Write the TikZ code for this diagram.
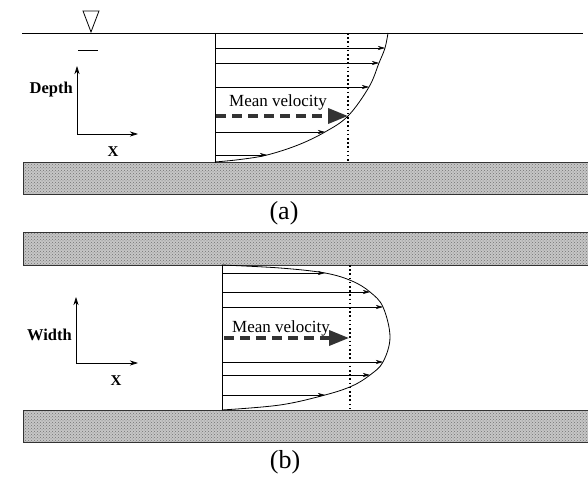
\documentclass[tikz,border=0pt]{standalone}
\usepackage{fontspec}
\setmainfont{Liberation Serif}
\usetikzlibrary{arrows.meta,patterns,shapes.geometric}
\tikzset{
  wall/.style={fill=gray!45},
  wallpat/.style={pattern=crosshatch dots, pattern color=gray!90!black},
  wallline/.style={line width=1pt, draw=black!80},
  vel/.style={line width=0.6pt, -{Stealth[length=7pt,width=4pt,inset=2pt]}},
  prof/.style={line width=0.8pt},
  meanarr/.style={line width=3.6pt, dash pattern=on 10pt off 6pt, -{Triangle[length=20pt,width=15pt]}, black!80},
  dotline/.style={line width=1.8pt, dash pattern=on 1.6pt off 2.6pt},
  axis/.style={line width=0.7pt, -{Stealth[length=8pt,width=5pt,inset=2.5pt]}},
  axlabel/.style={font=\fontsize{16.5}{18}\selectfont\bfseries, inner sep=0pt},
  xlabel/.style={font=\fontsize{15}{17}\selectfont\bfseries, inner sep=0pt},
  meanlabel/.style={font=\fontsize{17}{19}\selectfont, inner sep=0pt, anchor=base west},
  panellabel/.style={font=\fontsize{26}{28}\selectfont, inner sep=0pt}
}
\begin{document}
\begin{tikzpicture}[x=1pt,y=-1pt]
\useasboundingbox (0,0) rectangle (588,478);

% ---------- panel (a) ----------
% water surface
\draw[line width=0.8pt] (22,33) -- (583,33);
\node[draw, isosceles triangle, shape border rotate=-90, isosceles triangle stretches=true,
      minimum width=16pt, minimum height=21pt, inner sep=0pt, line width=0.8pt, anchor=apex] (tri) at (91,33) {};
\draw[line width=0.8pt] (78,50) -- (98,50);

% bed
\fill[wall] (23,163) rectangle (588,195);
\fill[wallpat] (23,163) rectangle (588,195);
\draw[wallline] (588,163) -- (23,163) -- (23,195) -- (588,195);

% profile base line
\draw[line width=1pt] (215,33) -- (215,163);
% profile curve
\draw[prof] plot[smooth, tension=0.6] coordinates {(215,162) (240,159.5) (267,155) (298,145) (325,132) (348,116) (369,87) (379,63) (385,48) (388,33)};
% velocity arrows
\foreach \yy/\xx in {48/385, 63/379, 87/369, 132/325, 155/267}
  \draw[vel] (215,\yy) -- (\xx,\yy);
% dotted mean line
\draw[dotline] (348,33) -- (348,162);
% mean velocity
\coordinate (ma0) at (216,116);
\coordinate (ma1) at (348,116);
\draw[meanarr] (ma0) -- (ma1);
\node[meanlabel] (mla) at (229,107) {Mean velocity};

% axes
\coordinate (oa) at (77,134);
\coordinate (ya) at (77,66);
\coordinate (xa) at (138,134);
\draw[axis] (oa) -- (ya);
\draw[axis] (oa) -- (xa);
\node[axlabel, anchor=east] (depth) at (73,90) {Depth};
\node[xlabel] (xa1) at (113,152) {X};

\node[panellabel] (la) at (284,213) {(a)};

% ---------- panel (b) ----------
\fill[wall] (23,232) rectangle (588,265);
\fill[wallpat] (23,232) rectangle (588,265);
\draw[wallline] (588,232) -- (23,232) -- (23,265) -- (588,265);

\fill[wall] (23,410) rectangle (588,442);
\fill[wallpat] (23,410) rectangle (588,442);
\draw[wallline] (588,410) -- (23,410) -- (23,442) -- (588,442);

\draw[line width=1pt] (222,265) -- (222,410);
\draw[prof] plot[smooth, tension=0.6] coordinates {(222,265) (280,268) (325,273) (352,281) (370,292) (383,307) (390,337) (383,362) (370,375) (352,386) (325,395) (280,405) (222,410)};
\foreach \yy/\xx in {273/325, 292/370, 307/383, 362/383, 375/370, 395/325}
  \draw[vel] (222,\yy) -- (\xx,\yy);
\draw[dotline] (350,265) -- (350,410);
\coordinate (mb0) at (224,338);
\coordinate (mb1) at (349,338);
\draw[meanarr] (mb0) -- (mb1);
\node[meanlabel] (mlb) at (232,332) {Mean velocity};

\coordinate (ob) at (76,363);
\coordinate (yb) at (76,297);
\coordinate (xb) at (138,363);
\draw[axis] (ob) -- (yb);
\draw[axis] (ob) -- (xb);
\node[axlabel, anchor=east] (width) at (72,335) {Width};
\node[xlabel] (xb1) at (116,381) {X};

\node[panellabel] (lb) at (285,462) {(b)};
\end{tikzpicture}
\end{document}
